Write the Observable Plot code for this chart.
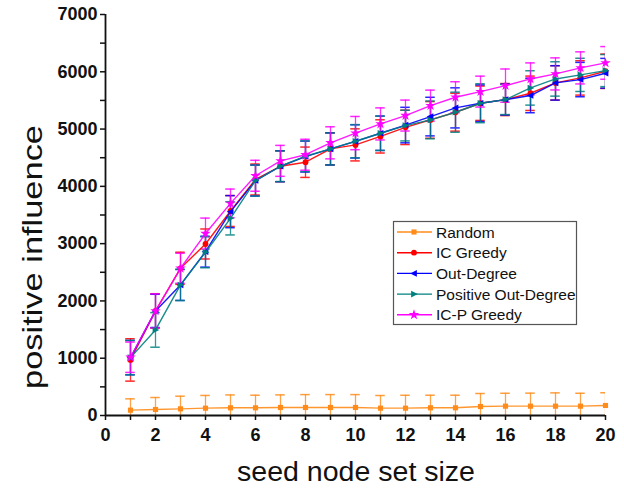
<!DOCTYPE html>
<html>
<head>
<meta charset="utf-8">
<script src="https://cdn.jsdelivr.net/npm/d3@7"></script>
<script src="https://cdn.jsdelivr.net/npm/@observablehq/plot@0.6"></script>
<style>
  body { margin: 0; background: #fff; }
  #wrap { position: relative; width: 624px; height: 488px; font-family: "Liberation Sans", Arial, sans-serif; }
  #legend { position: absolute; left: 0; top: 0; pointer-events: none; }
</style>
</head>
<body>
<div id="wrap"></div>
<script>
const seedSizes = [1,2,3,4,5,6,7,8,9,10,11,12,13,14,15,16,17,18,19,20];
const seriesNames = ["Random", "IC Greedy", "Out-Degree", "Positive Out-Degree", "IC-P Greedy"];
const randomVals = [93,105,116,128,134,134,140,140,140,140,128,128,134,134,157,163,163,163,163,175];
const randomErr  = [198,209,221,222,225,220,220,225,225,225,221,225,220,220,227,225,227,232,225,222];
const icGreedyVals = [970,1826,2570,2994,3570,4120,4351,4421,4654,4724,4872,5030,5160,5294,5451,5515,5625,5806,5893,6009];
const icGreedyErr  = [370,300,280,262,270,270,270,265,280,280,290,300,320,330,300,280,300,300,300,300];
const outDegVals = [1010,1826,2279,2860,3558,4101,4351,4520,4654,4785,4927,5070,5218,5370,5451,5515,5585,5806,5864,5974];
const outDegErr  = [300,290,270,270,280,270,270,270,280,290,300,310,337,350,320,270,300,300,300,260];
const posOutDegVals = [1010,1494,2279,2849,3442,4101,4351,4526,4654,4788,4927,5061,5160,5294,5451,5515,5718,5875,5946,6021];
const posOutDegErr  = [300,302,273,270,290,270,268,268,280,290,300,268,330,350,340,262,300,300,290,280];
const icpGreedyVals = [1017,1826,2570,3176,3703,4185,4445,4552,4760,4930,5090,5236,5410,5556,5654,5759,5875,5963,6068,6155];
const icpGreedyErr  = [265,297,262,270,250,270,270,270,280,290,280,270,270,270,270,290,280,280,280,285];
const xTicks = [0,2,4,6,8,10,12,14,16,18,20];
const yTicks = [0,1000,2000,3000,4000,5000,6000,7000];

const colors = ["#FF8C1A", "#FF0000", "#0000FF", "#008080", "#FF00FF"];
const valsList = [randomVals, icGreedyVals, outDegVals, posOutDegVals, icpGreedyVals];
const errList = [randomErr, icGreedyErr, outDegErr, posOutDegErr, icpGreedyErr];

const triLeft = { draw(ctx, size) { const s = Math.sqrt(size) * 0.75; ctx.moveTo(-s, 0); ctx.lineTo(s * 0.75, -s * 0.85); ctx.lineTo(s * 0.75, s * 0.85); ctx.closePath(); } };
const triRight = { draw(ctx, size) { const s = Math.sqrt(size) * 0.75; ctx.moveTo(s, 0); ctx.lineTo(-s * 0.75, -s * 0.85); ctx.lineTo(-s * 0.75, s * 0.85); ctx.closePath(); } };
const symbols = ["square", "circle", triLeft, triRight, "star"];
const radii = [2.9, 2.9, 2.9, 2.9, 3.3];

const series = seriesNames.map((name, k) => ({
  name, color: colors[k], symbol: symbols[k], r: radii[k],
  rows: seedSizes.map((x, i) => ({ x, y: valsList[k][i], err: errList[k][i] }))
}));

const capHalf = 0.19;
const marks = [];
for (const s of series) {
  marks.push(Plot.ruleX(s.rows, { x: "x", y1: d => d.y - d.err, y2: d => d.y + d.err, stroke: s.color, strokeWidth: 1.3, strokeOpacity: 0.8, clip: true }));
  marks.push(Plot.ruleY(s.rows, { y: d => d.y + d.err, x1: d => d.x - capHalf, x2: d => d.x + capHalf, stroke: s.color, strokeWidth: 1.5, strokeOpacity: 0.85, clip: true }));
  marks.push(Plot.ruleY(s.rows, { y: d => d.y - d.err, x1: d => d.x - capHalf, x2: d => d.x + capHalf, stroke: s.color, strokeWidth: 1.5, strokeOpacity: 0.85, clip: true }));
}
for (const s of series) {
  marks.push(Plot.line(s.rows, { x: "x", y: "y", stroke: s.color, strokeWidth: 1.4, strokeOpacity: 0.9 }));
  marks.push(Plot.dot(s.rows, { x: "x", y: "y", fill: s.color, stroke: "none", symbol: s.symbol, r: s.r }));
}

const chart = Plot.plot({
  width: 624, height: 488,
  marginLeft: 105, marginRight: 19, marginTop: 14, marginBottom: 73,
  style: { fontFamily: "Liberation Sans, Arial, sans-serif", background: "white", overflow: "visible" },
  x: { domain: [0, 20] },
  y: { domain: [0, 7000] },
  marks: [
    ...marks,
    Plot.axisX({ ticks: seedSizes.concat([0]), tickFormat: d => xTicks.includes(d) ? String(d) : "", tickSize: 5, tickPadding: 8, fontSize: 18, fontWeight: "bold", strokeWidth: 1.5, label: null, color: "#111" }),
    Plot.axisY({ ticks: d3.range(0, 7001, 500), tickFormat: d => yTicks.includes(d) ? String(d) : "", tickSize: 5, tickPadding: 3, fontSize: 18, fontWeight: "bold", strokeWidth: 1.5, label: null, color: "#111" }),
    Plot.ruleX([0], { stroke: "#111", strokeWidth: 1.8 }),
    Plot.ruleY([0], { stroke: "#111", strokeWidth: 1.8 })
  ]
});
document.getElementById("wrap").appendChild(chart);

// axis titles
const svg = d3.select(chart);
svg.append("text").attr("transform", "translate(41.5,257) rotate(-90)").attr("text-anchor", "middle")
  .attr("font-size", 28).attr("fill", "#111").attr("textLength", 264).attr("lengthAdjust", "spacingAndGlyphs")
  .text("positive influence");
svg.append("text").attr("x", 356).attr("y", 481).attr("text-anchor", "middle")
  .attr("font-size", 27).attr("fill", "#111").attr("textLength", 238).attr("lengthAdjust", "spacingAndGlyphs")
  .text("seed node set size");

// legend
const lg = d3.select("#wrap").append("svg").attr("id", "legend").attr("width", 624).attr("height", 488);
const lx = 393, ly = 221;
lg.append("rect").attr("x", lx + 0.5).attr("y", ly + 0.5).attr("width", 183).attr("height", 103)
  .attr("fill", "white").attr("stroke", "#555").attr("stroke-width", 1.2);
series.forEach((s, i) => {
  const cy = 232 + i * 20.7;
  lg.append("line").attr("x1", 397).attr("x2", 432).attr("y1", cy).attr("y2", cy).attr("stroke", s.color).attr("stroke-width", 1.4);
  const symType = typeof s.symbol === "string" ? ({ square: d3.symbolSquare, circle: d3.symbolCircle, star: d3.symbolStar })[s.symbol] : s.symbol;
  lg.append("path").attr("d", d3.symbol(symType, s.r * s.r * Math.PI)()).attr("transform", `translate(414,${cy})`).attr("fill", s.color);
  lg.append("text").attr("x", 436).attr("y", cy + 5.5).attr("font-size", 15.5).attr("fill", "#111")
    .attr("font-family", "Liberation Sans, Arial, sans-serif").text(s.name);
});
</script>
</body>
</html>
